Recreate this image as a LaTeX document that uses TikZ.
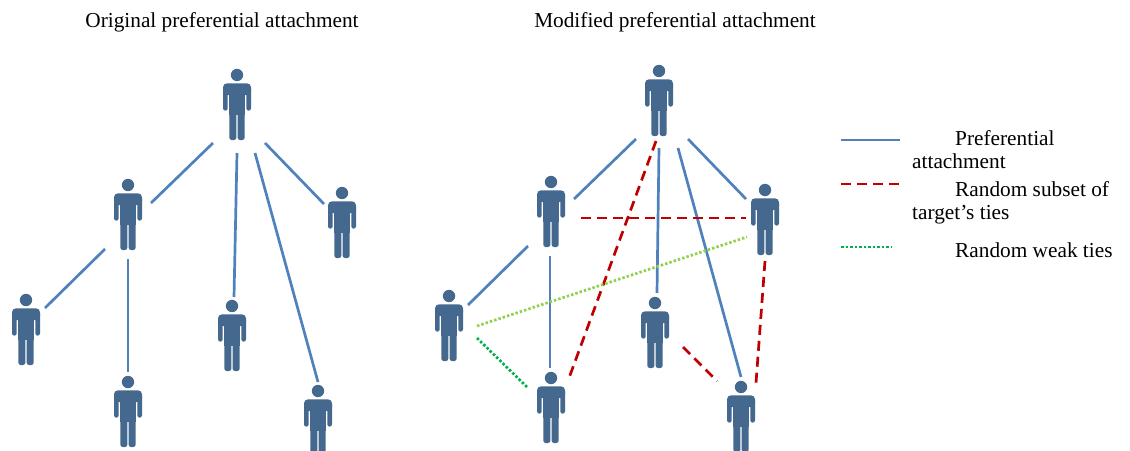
\documentclass[tikz,border=0pt]{standalone}
\usepackage{fontspec}
\setmainfont{Liberation Serif}
\usetikzlibrary{calc}
\definecolor{figblue}{RGB}{69,104,143}
\definecolor{tieblue}{RGB}{79,129,189}
\definecolor{tiered}{RGB}{192,0,0}
\definecolor{weakgreen}{RGB}{146,208,80}
\definecolor{darkgreen}{RGB}{0,176,80}

\begin{document}
\begin{tikzpicture}[x=1pt,y=-1pt,
	person/.pic={
		\fill[figblue] (0,0) circle (6.2);
		\fill[figblue,rounded corners=4] (-14,8.3) rectangle (14,20);
		\fill[figblue,rounded corners=2.4] (-14,12) rectangle (-9.3,35.7);
		\fill[figblue,rounded corners=2.4] (9.3,12) rectangle (14,35.7);
		\fill[figblue] (-8,12) rectangle (8,40);
		\fill[figblue,rounded corners=2.4] (-7.7,34) rectangle (-0.6,65);
		\fill[figblue,rounded corners=2.4] (0.6,34) rectangle (7.7,65);
	},
	tie/.style={line width=2.7pt,tieblue},
	randtie/.style={line width=2.7pt,tiered,dash pattern=on 10pt off 6pt},
	weaktie/.style={line width=2.7pt,weakgreen,dash pattern=on 2.5pt off 2pt},
	weaktie2/.style={line width=2.7pt,darkgreen,dash pattern=on 2.5pt off 2pt},
	title/.style={font=\fontsize{21.3}{24}\selectfont,inner sep=0pt},
	legend/.style={font=\fontsize{21.3}{23}\selectfont,inner sep=0pt,align=left,anchor=base west}]
	\useasboundingbox (0,0) rectangle (1130,450);

	% titles
	\node[title] (tOrig) at (222,22) {Original preferential attachment};
	\node[title] (tMod) at (675,22) {Modified preferential attachment};

	% original network
	\coordinate (L0) at (237,75);
	\coordinate (L1) at (128,185);
	\coordinate (L2) at (342,193);
	\coordinate (L3) at (26,300);
	\coordinate (L4) at (128,382);
	\coordinate (L5) at (232,306);
	\coordinate (L6) at (318,391);
	\foreach \p in {L0,L1,L2,L3,L4,L5,L6}
		\pic at (\p) {person};

	\draw[tie] ($(L0)+(-24,68)$) -- ($(L1)+(23,18)$);
	\draw[tie] ($(L0)+(0,78)$) -- ($(L5)+(2,-9)$);
	\draw[tie] ($(L0)+(18,78)$) -- ($(L6)+(0,-9)$);
	\draw[tie] ($(L0)+(28,68)$) -- ($(L2)+(-18,11)$);
	\draw[tie] ($(L1)+(-23,64)$) -- ($(L3)+(19,8)$);
	\draw[tie] ($(L1)+(0,74)$) -- ($(L4)+(0,-10)$);

	% modified network
	\coordinate (R0) at (659,71);
	\coordinate (R1) at (551,182);
	\coordinate (R2) at (765,190);
	\coordinate (R3) at (449,296);
	\coordinate (R4) at (655,303);
	\coordinate (R5) at (551,378);
	\coordinate (R6) at (741,387);
	\foreach \p in {R0,R1,R2,R3,R4,R5,R6}
		\pic at (\p) {person};

	\draw[tie] ($(R0)+(-23,68)$) -- ($(R1)+(23,17)$);
	\draw[tie] ($(R0)+(0,77)$) -- ($(R4)+(2,-10)$);
	\draw[tie] ($(R0)+(19,77)$) -- ($(R6)+(0,-10)$);
	\draw[tie] ($(R0)+(29,68)$) -- ($(R2)+(-19,9)$);
	\draw[tie] ($(R1)+(-23,64)$) -- ($(R3)+(19,9)$);
	\draw[tie] ($(R1)+(-1,74)$) -- ($(R5)+(-1,-10)$);

	\draw[randtie] ($(R0)+(-3,70)$) -- ($(R5)+(18,0)$);
	\draw[randtie] ($(R1)+(30,36)$) -- ($(R2)+(-19,28)$);
	\draw[randtie] ($(R2)+(0,71)$) -- ($(R6)+(15,-4)$);
	\draw[randtie] ($(R4)+(28,44)$) -- ($(R6)+(-24,-6)$);

	\draw[weaktie] ($(R3)+(28,30)$) -- ($(R2)+(-18,47)$);
	\draw[weaktie2] ($(R3)+(28,42)$) -- ($(R5)+(-23,10)$);

	% legend
	\coordinate (keyP) at (841,140);
	\coordinate (keyR) at (841,184);
	\coordinate (keyW) at (841,247);
	\draw[tie] (keyP) -- ++(59,0);
	\draw[randtie] (keyR) -- ++(59,0);
	\draw[weaktie2] (keyW) -- ++(51,0);
	\node[legend] (legP) at (912,168) {\hspace*{43pt}Preferential\\attachment};
	\node[legend] (legR) at (912,219) {\hspace*{43pt}Random subset of\\target's ties};
	\node[legend] (legW) at (912,257) {\hspace*{43pt}Random weak ties};
\end{tikzpicture}
\end{document}
